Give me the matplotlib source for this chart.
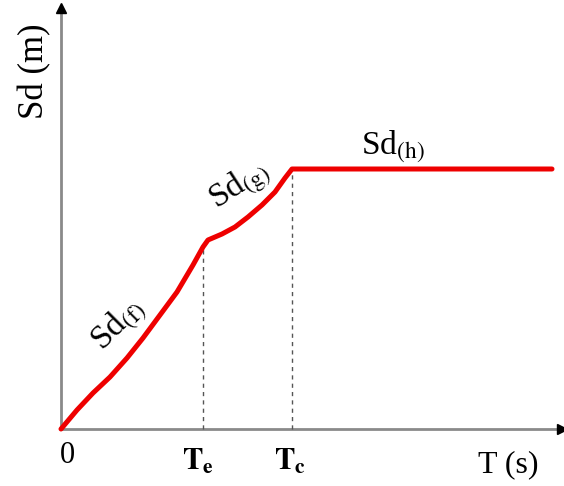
import numpy as np
import matplotlib
matplotlib.use('Agg')
import matplotlib.pyplot as plt

plt.rcParams['font.family'] = ['Liberation Serif', 'DejaVu Serif']
plt.rcParams['mathtext.fontset'] = 'stix'

# branch f : 0 -> Te
T_f = [0.0, 0.16, 0.32, 0.49, 0.66, 0.82, 0.99, 1.16, 1.32, 1.42]
Sd_f = [0.0, 0.19, 0.36, 0.52, 0.71, 0.91, 1.14, 1.37, 1.64, 1.82]
# branch g : Te -> Tc
T_g = [1.42, 1.47, 1.61, 1.74, 1.87, 2.01, 2.14, 2.24, 2.31]
Sd_g = [1.82, 1.89, 1.95, 2.02, 2.12, 2.24, 2.37, 2.51, 2.60]
# branch h : plateau
T_h = [2.31, 4.91]
Sd_h = [2.60, 2.60]

Te = 1.42
Tc = 2.31
x_end = 5.01
y_end = 4.21

fig = plt.figure(figsize=(5.64, 4.86), dpi=100)
ax = fig.add_axes([0, 0, 1, 1])
ax.set_xlim(-0.61, 5.03)
ax.set_ylim(-0.57, 4.29)
ax.axis('off')

# axes with arrows
ax.plot([0, x_end - 0.05], [0, 0], color='#8a8a8a', lw=2, zorder=1)
ax.plot([0, 0], [0, y_end - 0.05], color='#8a8a8a', lw=2, zorder=1)
ax.plot([x_end], [0], marker='>', color='black', ms=7, zorder=2)
ax.plot([0], [y_end], marker='^', color='black', ms=7, zorder=2)

# dashed guides
ax.plot([Te, Te], [0, Sd_f[-1]], color='#555555', lw=1, ls=(0, (3, 3)), zorder=1)
ax.plot([Tc, Tc], [0, Sd_g[-1]], color='#555555', lw=1, ls=(0, (3, 3)), zorder=1)

# spectrum
T_all = T_f + T_g[1:] + T_h[1:]
Sd_all = Sd_f + Sd_g[1:] + Sd_h[1:]
ax.plot(T_all, Sd_all, color='#ee0000', lw=3.6, solid_joinstyle='round',
        solid_capstyle='round', zorder=3)

# labels
ax.text(0.06, -0.26, '0', fontsize=22, ha='center', va='center')
ax.text(Te - 0.05, -0.33, r'$\mathbf{T}_{\mathbf{e}}$', fontsize=22, ha='center', va='center')
ax.text(Tc - 0.02, -0.33, r'$\mathbf{T}_{\mathbf{c}}$', fontsize=22, ha='center', va='center')
ax.text(4.47, -0.36, 'T (s)', fontsize=23, ha='center', va='center')
ax.text(-0.26, 3.58, 'Sd (m)', fontsize=25, ha='center', va='center', rotation=90)

ax.text(0.57, 1.04, r'Sd$_{\mathrm{(f)}}$', fontsize=24, ha='center', va='center', rotation=45)
ax.text(1.79, 2.43, r'Sd$_{\mathrm{(g)}}$', fontsize=24, ha='center', va='center', rotation=33)
ax.text(3.32, 2.82, r'Sd$_{\mathrm{(h)}}$', fontsize=24, ha='center', va='center')

fig.savefig('out.png', dpi=100)
